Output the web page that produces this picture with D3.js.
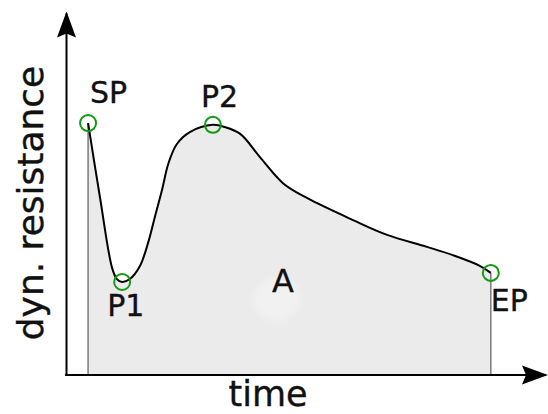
<!DOCTYPE html>
<html>
<head>
<meta charset="utf-8">
<script src="https://cdn.jsdelivr.net/npm/d3@7"></script>
<style>
  body { margin: 0; background: #fff; }
  text { font-family: "DejaVu Sans", Verdana, sans-serif; fill: #111; stroke: #111; stroke-width: 0.35px; }
</style>
</head>
<body>
<div id="chart"></div>
<script>
// curve (time 0..100, resistance 0..100)
var timeVals = [4.6, 7.1, 9.6, 10.6, 11.7, 13.3, 15.4, 17.1, 18.5, 20.0, 21.3, 23.1, 25.8,
                30.6, 33.1, 36.3, 40.4, 45.2, 50.2, 59.8, 66.9, 75.2, 80.6, 86.3, 88.5];
var resVals  = [69.6, 48.9, 29.6, 26.5, 25.7, 26.5, 30.1, 36.5, 43.6, 51.1, 58.3, 63.8, 67.1,
                69.1, 68.5, 66.6, 60.2, 53.0, 48.9, 42.8, 38.7, 35.4, 33.1, 30.1, 28.2];
var pointNames = ["SP", "P1", "P2", "EP"];
var pointIdx   = [0, 4, 13, 24];
var areaLabel = "A";
var xTitle = "time";
var yTitle = "dyn. resistance";

var width = 548, height = 414;

var svg = d3.select("#chart").append("svg")
    .attr("width", width)
    .attr("height", height);

var x = d3.scaleLinear().domain([0, 100]).range([66, 546]);
var y = d3.scaleLinear().domain([0, 100]).range([375, 13]);

var data = timeVals.map(function(t, i) { return {t: t, r: resVals[i]}; });

var defs = svg.append("defs");
defs.append("marker")
    .attr("id", "arrow")
    .attr("markerUnits", "userSpaceOnUse")
    .attr("viewBox", "0 -10 26 20")
    .attr("refX", 24).attr("refY", 0)
    .attr("markerWidth", 26).attr("markerHeight", 20)
    .attr("orient", "auto")
    .append("path")
    .attr("d", "M0,-9.5L26,0L0,9.5L4,0Z")
    .attr("fill", "#000");

var glow = defs.append("radialGradient").attr("id", "glow");
glow.append("stop").attr("offset", "0%").attr("stop-color", "#f1f1f1");
glow.append("stop").attr("offset", "70%").attr("stop-color", "#f0f0f0");
glow.append("stop").attr("offset", "100%").attr("stop-color", "#ebebeb");

var curve = d3.curveCatmullRom.alpha(0.5);

// filled area under the curve
var area = d3.area()
    .x(function(d) { return x(d.t); })
    .y0(y(0))
    .y1(function(d) { return y(d.r); })
    .curve(curve);

svg.append("path")
    .datum(data)
    .attr("d", area)
    .attr("fill", "#ebebeb");

// soft spot behind the label
svg.append("ellipse")
    .attr("cx", x(43.9)).attr("cy", y(21))
    .attr("rx", 28).attr("ry", 26)
    .attr("fill", "url(#glow)");

// grey drop lines at start / end
[data[0], data[data.length - 1]].forEach(function(d) {
    svg.append("line")
        .attr("x1", x(d.t)).attr("x2", x(d.t))
        .attr("y1", y(d.r)).attr("y2", y(0))
        .attr("stroke", "#7a7a7a")
        .attr("stroke-width", 1.5);
});

var line = d3.line()
    .x(function(d) { return x(d.t); })
    .y(function(d) { return y(d.r); })
    .curve(curve);

svg.append("path")
    .datum(data)
    .attr("d", line)
    .attr("fill", "none")
    .attr("stroke", "#000")
    .attr("stroke-width", 2);

// axes without ticks, arrow at the end
var xAxis = d3.axisBottom(x).tickValues([]).tickSizeOuter(0);
var yAxis = d3.axisLeft(y).tickValues([]).tickSizeOuter(0);

var gx = svg.append("g").attr("transform", "translate(0," + y(0) + ")").call(xAxis);
gx.select(".domain")
    .attr("d", "M" + (x(0) - 1) + ",0H" + x(100))
    .attr("stroke", "#000").attr("stroke-width", 2)
    .attr("marker-end", "url(#arrow)");

var gy = svg.append("g").attr("transform", "translate(" + x(0) + ",0)").call(yAxis);
gy.select(".domain")
    .attr("stroke", "#000").attr("stroke-width", 2)
    .attr("marker-end", "url(#arrow)");

// key points
var pts = pointIdx.map(function(i, k) { return {name: pointNames[k], d: data[i]}; });

svg.selectAll("circle.pt")
    .data(pts)
    .enter().append("circle")
    .attr("class", "pt")
    .attr("cx", function(p) { return x(p.d.t); })
    .attr("cy", function(p) { return y(p.d.r); })
    .attr("r", 8)
    .attr("fill", "none")
    .attr("stroke", "#139a13")
    .attr("stroke-width", 2);

var labelOff = {SP: [2, -20], P1: [-15, 34], P2: [-12, -18], EP: [0, 38]};
svg.selectAll("text.pt")
    .data(pts)
    .enter().append("text")
    .attr("class", "pt")
    .attr("x", function(p) { return x(p.d.t) + labelOff[p.name][0]; })
    .attr("y", function(p) { return y(p.d.r) + labelOff[p.name][1]; })
    .style("font-size", "30px")
    .text(function(p) { return p.name; });

svg.append("text")
    .attr("x", x(45.2)).attr("y", y(23))
    .attr("text-anchor", "middle")
    .style("font-size", "32px")
    .text(areaLabel);

svg.append("text")
    .attr("x", 268).attr("y", 406)
    .attr("text-anchor", "middle")
    .style("font-size", "35px")
    .text(xTitle);

svg.append("text")
    .attr("transform", "translate(43,203) rotate(-90)")
    .attr("text-anchor", "middle")
    .style("font-size", "36px")
    .text(yTitle);
</script>
</body>
</html>
